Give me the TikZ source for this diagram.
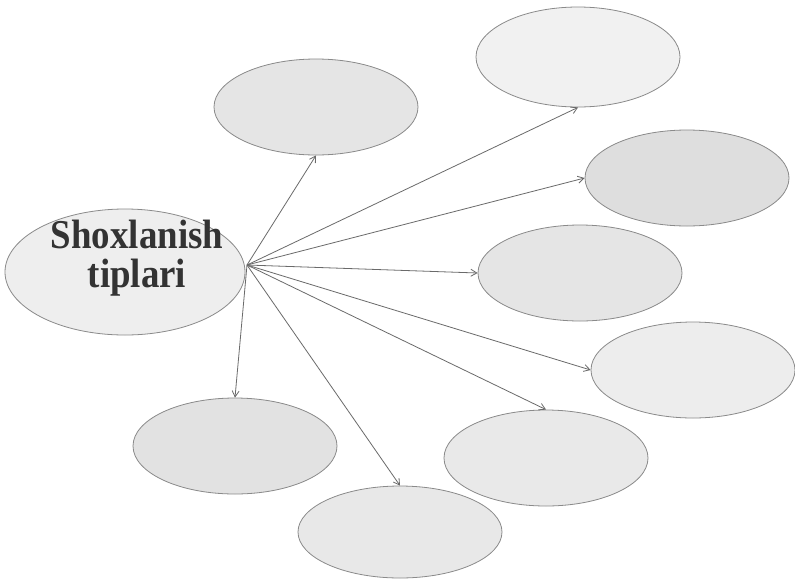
\documentclass[tikz,border=0pt]{standalone}
\usepackage{fontspec}
\newfontfamily\hubfont[FakeStretch=0.9]{Liberation Serif}
\usetikzlibrary{shapes.geometric,arrows.meta}
\definecolor{linegray}{HTML}{6A6A6A}
\definecolor{edgegray}{HTML}{8A8A8A}
\tikzset{
  leaf/.style={ellipse, draw=edgegray, line width=0.8pt, inner sep=0pt,
    minimum width=204pt, minimum height=96pt},
  conn/.style={draw=linegray, line width=0.8pt,
    -{Straight Barb[length=6pt,width=7pt]}}
}
\begin{document}
\begin{tikzpicture}[x=1pt,y=1pt]
\useasboundingbox (0,0) rectangle (795,-582);
\fill[white] (0,0) rectangle (795,-582);
% centre
\node[ellipse, draw=edgegray, line width=0.8pt, fill=gray!13, inner sep=0pt,
  minimum width=240pt, minimum height=126pt] (c) at (125,-272) {};
\node[text=black!80, align=center, inner sep=0pt,
  font=\hubfont\bfseries\fontsize{41}{39}\selectfont]
  (t) at (137,-258) {Shoxlanish\\tiplari};
% leaves
\node[leaf, fill=gray!20] (e1) at (316,-107) {};
\node[leaf, fill=gray!11, minimum height=100pt] (e2) at (578,-57) {};
\node[leaf, fill=gray!26] (e3) at (687,-178) {};
\node[leaf, fill=gray!20] (e4) at (580,-273) {};
\node[leaf, fill=gray!14] (e5) at (693,-370) {};
\node[leaf, fill=gray!17] (e6) at (546,-458) {};
\node[leaf, fill=gray!23] (e7) at (235,-446) {};
\node[leaf, fill=gray!18, minimum height=92pt] (e8) at (400,-532) {};
% hub
\coordinate (hub) at (247,-265);
\draw[conn] (hub) -- (e1.south);
\draw[conn] (hub) -- (e2.south);
\draw[conn] (hub) -- (e3.west);
\draw[conn] (hub) -- (e4.west);
\draw[conn] (hub) -- (e5.west);
\draw[conn] (hub) -- (e6.north);
\draw[conn] (hub) -- (e7.north);
\draw[conn] (hub) -- (e8.north);
\end{tikzpicture}
\end{document}
